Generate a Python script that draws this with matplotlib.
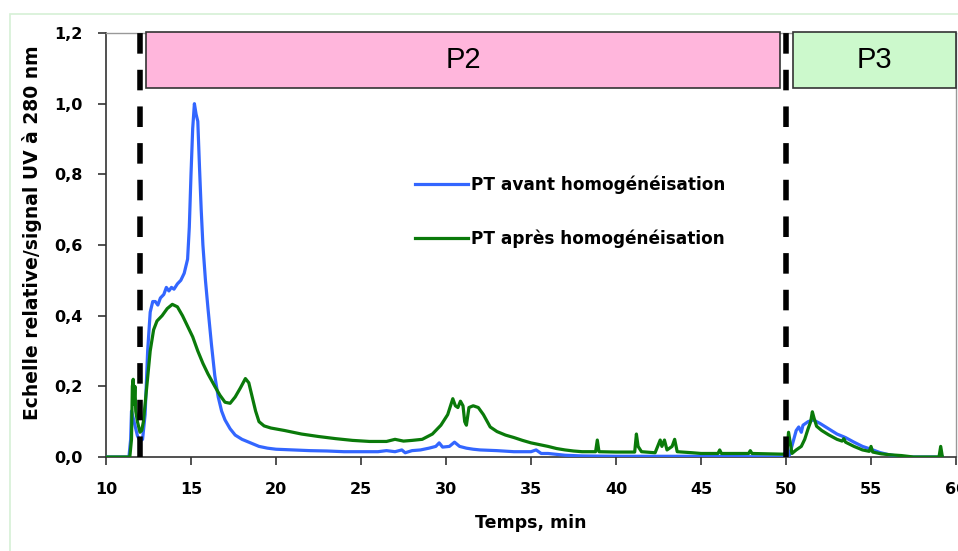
import matplotlib
matplotlib.use("Agg")
import matplotlib.pyplot as plt
from matplotlib.patches import Rectangle

plt.rcParams['font.family'] = ['DejaVu Sans']

# ---- data ----
t_avant = [10, 11.35, 11.45, 11.5, 11.6, 11.7, 11.85, 12.0, 12.15, 12.3, 12.45, 12.6, 12.75, 12.9, 13.05,
           13.2, 13.4, 13.55, 13.7, 13.85, 14.0, 14.2, 14.4, 14.6, 14.8, 14.9, 15.0, 15.1, 15.2, 15.3,
           15.4, 15.5, 15.6, 15.7, 15.85, 16.0, 16.2, 16.4, 16.6, 16.8, 17.0, 17.3, 17.6, 18.0, 18.5,
           19.0, 19.5, 20, 21, 22, 23, 24, 25, 26, 26.5, 27, 27.4, 27.6, 28, 28.5, 29, 29.4, 29.6,
           29.8, 30.2, 30.5, 30.8, 31.2, 31.6, 32, 33, 34, 35, 35.3, 35.6, 36, 37, 38, 40, 45, 49.9,
           50.2, 50.4, 50.6, 50.75, 50.9, 51.0, 51.3, 51.6, 52.0, 52.5, 53.0, 53.5, 54.0, 54.5, 55.0,
           55.5, 56, 56.5, 57, 59.2]
v_avant = [0, 0, 0.05, 0.13, 0.11, 0.09, 0.06, 0.045, 0.05, 0.12, 0.30, 0.41, 0.44, 0.44, 0.43,
           0.45, 0.46, 0.48, 0.47, 0.48, 0.475, 0.49, 0.50, 0.52, 0.56, 0.65, 0.80, 0.93, 1.00, 0.97,
           0.95, 0.82, 0.70, 0.60, 0.50, 0.42, 0.32, 0.23, 0.17, 0.13, 0.105, 0.08, 0.062, 0.05, 0.04,
           0.03, 0.025, 0.022, 0.02, 0.018, 0.017, 0.015, 0.015, 0.015, 0.018, 0.015, 0.02, 0.012, 0.018, 0.02, 0.025, 0.03, 0.04,
           0.028, 0.03, 0.042, 0.03, 0.025, 0.022, 0.02, 0.018, 0.015, 0.015, 0.02, 0.01, 0.01, 0.005, 0.003, 0.002, 0.002, 0.0,
           0.005, 0.04, 0.075, 0.085, 0.07, 0.09, 0.10, 0.105, 0.095, 0.08, 0.065, 0.055, 0.042, 0.03, 0.022,
           0.013, 0.007, 0.003, 0.0, 0.0]

t_apres = [10, 11.4, 11.5, 11.55, 11.6, 11.65, 11.7, 11.75, 11.85, 12.0, 12.1, 12.2, 12.4, 12.6, 12.8,
           13.0, 13.3, 13.6, 13.9, 14.2, 14.5, 14.8, 15.1, 15.4, 15.7, 16.0, 16.4, 16.7, 17.0, 17.3,
           17.6, 17.9, 18.2, 18.4, 18.6, 18.8, 19.0, 19.3, 19.7, 20.5, 21.5, 22.5, 23.5, 24.5, 25.5,
           26.5, 27.0, 27.5, 28.0, 28.6, 29.2, 29.7, 30.1, 30.3, 30.4, 30.55, 30.7, 30.85, 31.0, 31.1,
           31.2, 31.35, 31.6, 31.9, 32.2, 32.6, 33.0, 33.5, 34, 34.5, 35, 35.5, 36, 36.5, 37, 37.5, 38,
           38.8, 38.9, 39.0, 40, 41.1, 41.2, 41.3, 41.5, 42.3, 42.6, 42.7, 42.85, 43.0, 43.3, 43.45,
           43.6, 44.5, 45, 46, 46.1, 46.2, 47.8, 47.9, 48.0, 49.8, 50.05, 50.15, 50.25, 50.35, 50.6,
           50.9, 51.1, 51.3, 51.45, 51.55, 51.65, 51.8, 52.1, 52.5, 53.0, 53.3, 53.4, 53.5, 54.0, 54.5,
           54.9, 55.0, 55.1, 55.6, 56.2, 56.8, 57.5, 59.0, 59.1, 59.2]
v_apres = [0, 0, 0.05, 0.20, 0.22, 0.15, 0.20, 0.13, 0.10, 0.07, 0.075, 0.10, 0.20, 0.30, 0.36,
           0.385, 0.40, 0.42, 0.432, 0.425, 0.40, 0.37, 0.34, 0.30, 0.265, 0.235, 0.20, 0.175, 0.155, 0.152,
           0.17, 0.195, 0.222, 0.21, 0.17, 0.13, 0.10, 0.088, 0.082, 0.075, 0.065, 0.058, 0.052, 0.047, 0.044,
           0.044, 0.05, 0.045, 0.047, 0.05, 0.065, 0.09, 0.12, 0.15, 0.165, 0.145, 0.14, 0.158, 0.145, 0.10,
           0.09, 0.14, 0.145, 0.14, 0.12, 0.085, 0.072, 0.062, 0.055, 0.047, 0.04, 0.035, 0.03, 0.024, 0.02, 0.017, 0.015,
           0.015, 0.048, 0.015, 0.014, 0.014, 0.065, 0.03, 0.015, 0.012, 0.048, 0.03, 0.048, 0.02, 0.03, 0.05,
           0.015, 0.012, 0.01, 0.01, 0.02, 0.01, 0.01, 0.018, 0.01, 0.008, 0.01, 0.07, 0.04, 0.01, 0.02,
           0.03, 0.05, 0.08, 0.10, 0.128, 0.11, 0.087, 0.075, 0.063, 0.05, 0.045, 0.052, 0.042, 0.03, 0.02,
           0.016, 0.03, 0.014, 0.009, 0.006, 0.004, 0.0, 0.0, 0.03, 0.0]

label_avant = "PT avant homogénéisation"
label_apres = "PT après homogénéisation"
y_ticks = [0.0, 0.2, 0.4, 0.6, 0.8, 1.0, 1.2]
y_ticklabels = ["0,0", "0,2", "0,4", "0,6", "0,8", "1,0", "1,2"]
x_ticks = [10, 15, 20, 25, 30, 35, 40, 45, 50, 55, 60]
boundaries = [12, 50]
zones = ["P2", "P3"]
zone_x = [(12.35, 49.65), (50.4, 60.0)]

# ---- figure ----
fig = plt.figure(figsize=(9.58, 5.51), dpi=100)
fig.patches.append(Rectangle((10/958, -0.05), 1.1, 1 - 14/551 + 0.05, transform=fig.transFigure,
                             facecolor='white', edgecolor='#d6f0d6', lw=1.2, zorder=-10))
ax = fig.add_axes([106/958, 1 - 457/551, 850/958, 424/551])
ax.set_facecolor('none')

ax.plot(t_avant, v_avant, color='#3366ff', lw=2.3, label=label_avant, zorder=3)
ax.plot(t_apres, v_apres, color='#0a7a0a', lw=2.3, label=label_apres, zorder=4)

for b in boundaries:
    ax.plot([b, b], [0, 1.23], color='black', lw=4, dashes=(3.7, 2.9), clip_on=False, zorder=5)

zone_colors = ['#ffb6dc', '#ccf9cc']
for (x0, x1), name, c in zip(zone_x, zones, zone_colors):
    ax.add_patch(Rectangle((x0, 1.045), x1 - x0, 0.158, facecolor=c, edgecolor='#333333',
                           lw=1.2, clip_on=False, zorder=6))
    ax.text((x0 + x1) / 2, 1.124, name, ha='center', va='center', fontsize=21,
            family='Liberation Sans', zorder=7)

ax.set_xlim(10, 60)
ax.set_ylim(0, 1.2)
ax.set_xticks(x_ticks)
ax.set_xticklabels([str(x) for x in x_ticks], fontweight='bold', fontsize=11.5)
ax.set_yticks(y_ticks)
ax.set_yticklabels(y_ticklabels, fontweight='bold', fontsize=11.5)
ax.tick_params(axis='y', direction='out', length=6, width=1.2, color='#333333', pad=11)
ax.tick_params(axis='x', direction='out', length=6, width=1.2, color='#333333', pad=12)
for s in ['left', 'bottom']:
    ax.spines[s].set_color('#333333')
    ax.spines[s].set_linewidth(1.2)
for s in ['top', 'right']:
    ax.spines[s].set_color('#999999')
    ax.spines[s].set_linewidth(1.0)

ax.set_xlabel("Temps, min", fontweight='bold', fontsize=12.5, labelpad=12)
ax.set_ylabel("Echelle relative/signal UV à 280 nm", fontweight='bold', fontsize=13.5)
ax.yaxis.set_label_coords(-0.0755, 0.528)

leg = ax.legend(loc='upper left', bbox_to_anchor=(400/958, 1 - 160/551), bbox_transform=fig.transFigure,
                frameon=False, prop={'weight': 'bold', 'size': 12.2}, handlelength=3.1,
                handletextpad=0.2, labelspacing=2.1)

fig.savefig("out.png", dpi=100)
